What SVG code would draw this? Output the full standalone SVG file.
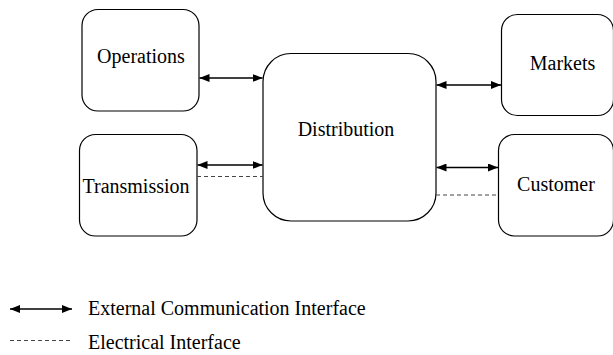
<svg xmlns="http://www.w3.org/2000/svg" width="613" height="355" viewBox="0 0 613 355">
<style>
.box{fill:#fff;stroke:#000;stroke-width:1.2}
.lbl{font-family:'Liberation Serif','Times New Roman',serif;font-size:20px;fill:#000}
.com{stroke:#000;stroke-width:1.5;fill:none;marker-start:url(#ah);marker-end:url(#ah)}
.ele{stroke:#444;stroke-width:1;stroke-dasharray:4,3;fill:none}
</style>
<defs>
<marker id="ah" viewBox="0 0 10 8" refX="10" refY="4" markerWidth="10" markerHeight="8" markerUnits="userSpaceOnUse" orient="auto-start-reverse">
<path d="M0,0 L10,4 L0,8 Z" fill="#000"/>
</marker>
</defs>
<g id="operations"><rect class="box" x="82" y="9.5" width="117" height="101.5" rx="16"/><text class="lbl" x="141" y="63" text-anchor="middle">Operations</text></g>
<g id="transmission"><rect class="box" x="79.5" y="134.5" width="117.5" height="101.5" rx="16"/><text class="lbl" x="136" y="193" text-anchor="middle">Transmission</text></g>
<g id="distribution"><rect class="box" x="263" y="53.5" width="173" height="167.5" rx="28"/><text class="lbl" x="346" y="136" text-anchor="middle">Distribution</text></g>
<g id="markets"><rect class="box" x="501.5" y="14.5" width="112" height="101" rx="16"/><text class="lbl" x="562.5" y="70" text-anchor="middle">Markets</text></g>
<g id="customer"><rect class="box" x="498.5" y="134.5" width="115" height="101.5" rx="16"/><text class="lbl" x="556" y="191" text-anchor="middle">Customer</text></g>
<g id="connectors">
<line class="com" x1="199.5" y1="78" x2="262.5" y2="78"/>
<line class="com" x1="197.5" y1="165" x2="262.5" y2="165"/>
<line class="ele" x1="197" y1="176.5" x2="263" y2="176.5"/>
<line class="com" x1="436.5" y1="85" x2="501" y2="85"/>
<line class="com" x1="436.5" y1="167.5" x2="498" y2="167.5"/>
<line class="ele" x1="436" y1="195" x2="498.5" y2="195"/>
</g>
<g id="legend">
<line class="com" x1="10" y1="309" x2="72" y2="309"/>
<text class="lbl" x="88" y="315">External Communication Interface</text>
<line class="ele" x1="10" y1="340.5" x2="72" y2="340.5"/>
<text class="lbl" x="88" y="349">Electrical Interface</text>
</g>
</svg>
